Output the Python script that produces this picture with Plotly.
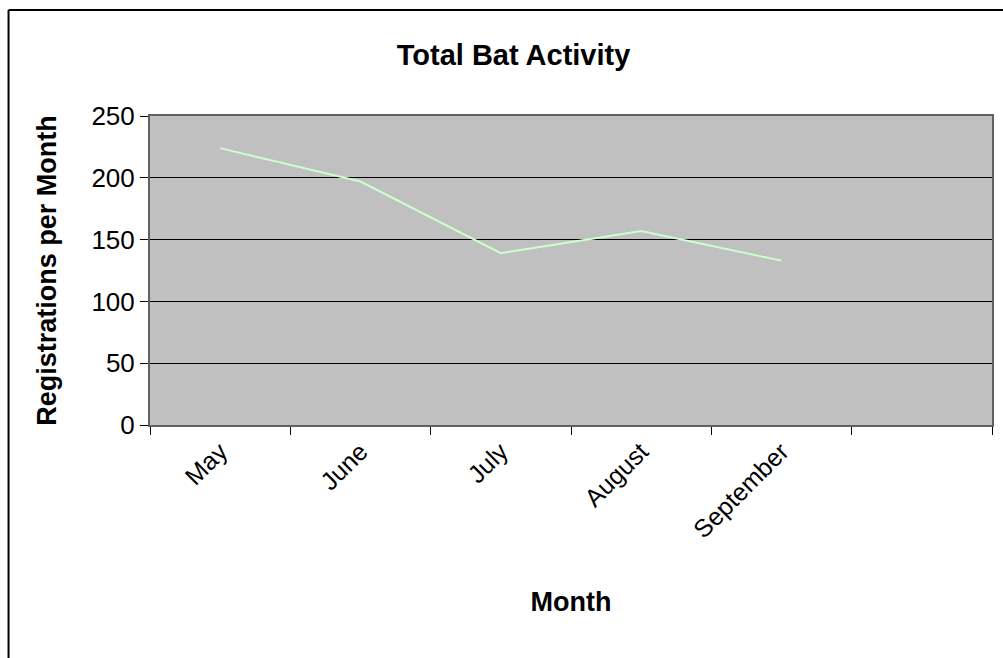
import plotly.graph_objects as go

months = ["May", "June", "July", "August", "September"]
registrations = [224, 197, 139, 157, 133]
extra_category = [" "]
y_ticks = [0, 50, 100, 150, 200, 250]

FONT = "Liberation Sans, Arial, sans-serif"

fig = go.Figure()
fig.add_trace(go.Scatter(
    x=months, y=registrations, mode="lines",
    line=dict(color="#CCFFCC", width=2),
    showlegend=False, hoverinfo="x+y",
))

fig.update_layout(
    width=1003, height=658,
    margin=dict(l=150, r=9, t=116, b=233),
    paper_bgcolor="white",
    plot_bgcolor="#C0C0C0",
    font=dict(family=FONT, color="black"),
    title=dict(text="<b>Total Bat Activity</b>", x=0.512, xanchor="center",
               xref="container", y=0.917, yanchor="middle", yref="container",
               font=dict(size=29, family=FONT, color="black")),
    xaxis=dict(
        type="category",
        categoryorder="array",
        categoryarray=months + extra_category,
        range=[-0.5, 5.5],
        tickson="boundaries",
        ticks="outside", ticklen=8, tickcolor="black", tickwidth=1,
        tickangle=-45,
        tickfont=dict(size=25, family=FONT, color="black"),
        showgrid=False,
        showline=True, linecolor="#606060", linewidth=2, mirror=True,
        title=dict(text="<b>Month</b>", standoff=50,
                   font=dict(size=27, family=FONT, color="black")),
        fixedrange=True,
    ),
    yaxis=dict(
        range=[0, 250],
        tickvals=y_ticks,
        ticks="outside", ticklen=8, tickcolor="black", tickwidth=1,
        tickfont=dict(size=26, family=FONT, color="black"),
        showgrid=True, gridcolor="black", gridwidth=1,
        zeroline=False,
        showline=True, linecolor="#606060", linewidth=2, mirror=True,
        title=dict(text="<b>Registrations per Month</b>", standoff=27,
                   font=dict(size=27, family=FONT, color="black")),
        fixedrange=True,
    ),
    shapes=[
        dict(type="line", xref="paper", yref="paper",
             x0=-0.168, x1=1.05, y0=1.343, y1=1.343,
             line=dict(color="black", width=2)),
        dict(type="line", xref="paper", yref="paper",
             x0=-0.168, x1=-0.168, y0=1.343, y1=-0.8,
             line=dict(color="black", width=2)),
    ],
)

fig.write_html("out.html")
